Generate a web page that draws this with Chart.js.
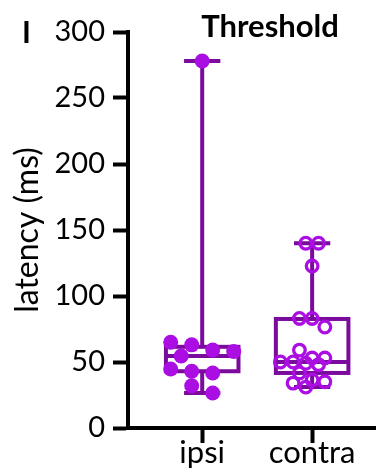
<!DOCTYPE html>
<html>
<head>
<meta charset="utf-8">
<script src="https://cdn.jsdelivr.net/npm/chart.js@4.4.1/dist/chart.umd.min.js"></script>
<style>
  html, body { margin: 0; padding: 0; background: #ffffff; }
  #wrap { position: relative; width: 385px; height: 470px; }
</style>
</head>
<body>
<div id="wrap"><canvas id="chart" width="385" height="470"></canvas></div>
<script>
// Response latency at threshold, per side
const groups = ['ipsi', 'contra'];
const ipsiLatency = [278, 65, 63, 59, 58, 54.5, 44.7, 43, 41.7, 32, 26.5];
const contraLatency = [140, 140, 122.7, 83, 83, 76.5, 59, 53, 53, 50, 50, 49, 48, 41.7, 36.4, 35, 34, 31];

// Box-and-whisker summary (min to max whiskers)
const boxMin    = [26.5, 31];
const boxQ1     = [43, 41.7];
const boxMedian = [54.5, 50];
const boxQ3     = [61.5, 82.6];
const boxMax    = [278, 140];

const yTicks = [0, 50, 100, 150, 200, 250, 300];

const POINT = '#ab0ee2';
const LINE = '#7a0b9c';
const FONT = 'Lato';

// Box, whiskers and caps, drawn under the points
const boxPlugin = {
  id: 'boxes',
  beforeDatasetsDraw(chart) {
    const { ctx, scales: { x, y } } = chart;
    const unit = x.getPixelForValue(2) - x.getPixelForValue(1);
    const halfBox = unit * 0.33;
    const halfCap = unit * 0.165;
    ctx.save();
    ctx.strokeStyle = LINE;
    ctx.lineWidth = 4;
    ctx.lineCap = 'butt';
    groups.forEach((g, i) => {
      const cx = x.getPixelForValue(i + 1);
      const yMin = y.getPixelForValue(boxMin[i]);
      const yQ1 = y.getPixelForValue(boxQ1[i]);
      const yMed = y.getPixelForValue(boxMedian[i]);
      const yQ3 = y.getPixelForValue(boxQ3[i]);
      const yMax = y.getPixelForValue(boxMax[i]);
      ctx.beginPath();
      ctx.moveTo(cx, yMax); ctx.lineTo(cx, yQ3);
      ctx.moveTo(cx, yQ1); ctx.lineTo(cx, yMin);
      ctx.moveTo(cx - halfCap, yMax); ctx.lineTo(cx + halfCap, yMax);
      ctx.moveTo(cx - halfCap, yMin); ctx.lineTo(cx + halfCap, yMin);
      ctx.moveTo(cx - halfBox, yMed); ctx.lineTo(cx + halfBox, yMed);
      ctx.stroke();
      ctx.strokeRect(cx - halfBox, yQ3, halfBox * 2, yQ1 - yQ3);
    });
    ctx.restore();
  },
  afterDraw(chart) {
    const { ctx } = chart;
    ctx.save();
    ctx.fillStyle = '#000';
    ctx.textAlign = 'center';
    ctx.textBaseline = 'alphabetic';
    ctx.font = `bold 30px ${FONT}`;
    ctx.fillText('I', 26.5, 43);
    ctx.font = `bold 31px ${FONT}`;
    ctx.fillText('Threshold', 270, 37);
    ctx.restore();
  }
};

// Spread points of one group sideways, row by row, so they do not pile up
function swarm(values, center, xScale, yScale, spacing, minDist, rowH) {
  const cx = xScale.getPixelForValue(center);
  const order = values.map((v, i) => i).sort((a, b) => values[b] - values[a]);
  const rows = [];
  order.forEach(i => {
    const py = yScale.getPixelForValue(values[i]);
    const row = rows[rows.length - 1];
    if (row && py - row.top < rowH) row.items.push(i);
    else rows.push({ top: py, items: [i] });
  });
  const placed = [];
  const xs = new Array(values.length);
  rows.forEach(row => {
    const n = row.items.length;
    const base = row.items.map((i, k) => (k - (n - 1) / 2) * spacing);
    const shifts = [0, -spacing / 2, spacing / 2, -spacing, spacing];
    let best = 0, bestScore = -Infinity;
    for (const s of shifts) {
      let md = Infinity;
      row.items.forEach((i, k) => {
        const px = cx + base[k] + s, py = yScale.getPixelForValue(values[i]);
        placed.forEach(p => { md = Math.min(md, Math.hypot(p[0] - px, p[1] - py)); });
      });
      if (md >= minDist) { best = s; bestScore = Infinity; break; }
      if (md > bestScore) { bestScore = md; best = s; }
    }
    row.items.forEach((i, k) => {
      const px = cx + base[k] + best, py = yScale.getPixelForValue(values[i]);
      placed.push([px, py]);
      xs[i] = xScale.getValueForPixel(px);
    });
  });
  return xs;
}

const chart = new Chart(document.getElementById('chart'), {
  type: 'scatter',
  data: {
    datasets: [
      {
        label: groups[0],
        data: ipsiLatency.map(v => ({ x: 1, y: v })),
        pointRadius: 7.5,
        pointHoverRadius: 7.5,
        pointBackgroundColor: POINT,
        pointBorderColor: POINT,
        pointBorderWidth: 0
      },
      {
        label: groups[1],
        data: contraLatency.map(v => ({ x: 2, y: v })),
        pointRadius: 5.8,
        pointHoverRadius: 5.8,
        pointBackgroundColor: 'rgba(0,0,0,0)',
        pointBorderColor: POINT,
        pointBorderWidth: 3.3
      }
    ]
  },
  options: {
    responsive: false,
    animation: false,
    events: [],
    layout: { padding: { top: 32, right: 0, bottom: 0, left: 0 } },
    plugins: { legend: { display: false }, tooltip: { enabled: false } },
    scales: {
      x: {
        type: 'linear',
        min: 0.325,
        max: 2.58,
        afterBuildTicks: s => { s.ticks = [{ value: 1 }, { value: 2 }]; },
        afterFit: s => { s.height = 42; },
        border: { display: true, color: '#000', width: 4 },
        grid: { drawOnChartArea: false, drawTicks: true, tickLength: 15, tickWidth: 4, tickColor: '#000' },
        ticks: {
          color: '#000',
          padding: -9,
          maxRotation: 0,
          font: { family: FONT, size: 31 },
          callback: v => groups[Math.round(v) - 1]
        }
      },
      y: {
        min: 0,
        max: 300,
        afterBuildTicks: s => { s.ticks = yTicks.map(v => ({ value: v })); },
        afterFit: s => { s.width = 128; },
        border: { display: true, color: '#000', width: 4 },
        grid: { drawOnChartArea: false, drawTicks: true, tickLength: 15, tickWidth: 4, tickColor: '#000' },
        ticks: { color: '#000', padding: 8, font: { family: FONT, size: 29 } },
        title: {
          display: true,
          text: 'latency (ms)',
          color: '#000',
          font: { family: FONT, size: 32 },
          padding: { top: 8, bottom: 0 }
        }
      }
    }
  },
  plugins: [boxPlugin]
});

// Lay the points out once the scales know their pixel sizes
const xs1 = swarm(ipsiLatency, 1, chart.scales.x, chart.scales.y, 21, 14.5, 10);
const xs2 = swarm(contraLatency, 2, chart.scales.x, chart.scales.y, 12.7, 11, 9);
chart.data.datasets[0].data.forEach((p, i) => { p.x = xs1[i]; });
chart.data.datasets[1].data.forEach((p, i) => { p.x = xs2[i]; });
chart.update('none');
</script>
</body>
</html>
